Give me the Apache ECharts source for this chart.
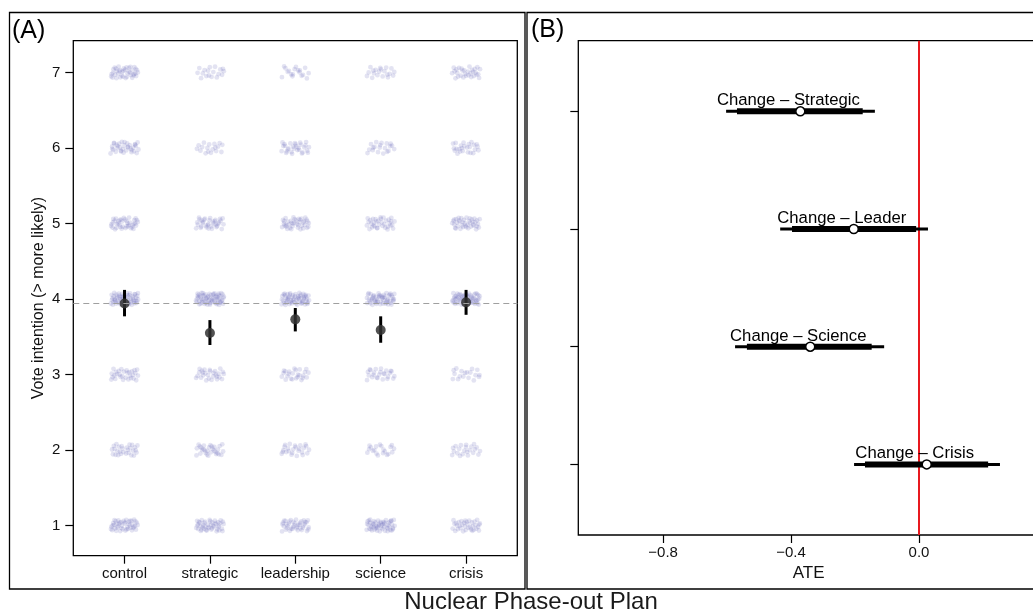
<!DOCTYPE html>
<html>
<head>
<meta charset="utf-8">
<script src="https://cdn.jsdelivr.net/npm/echarts@6/dist/echarts.min.js"></script>
<style>
  html, body { margin: 0; padding: 0; background: #fff; }
  #chart { width: 1033px; height: 613px; }
</style>
</head>
<body>
<div id="chart"></div>
<script>
// panel A: treatments, response levels, estimated respondents per level
var treatments = ['control', 'strategic', 'leadership', 'science', 'crisis'];
var levels = [1, 2, 3, 4, 5, 6, 7];
// rows = level 1..7, columns = treatments
var counts = [
    [45, 45, 40, 55, 35],
    [28, 30, 25, 20, 22],
    [30, 28, 25, 25, 18],
    [60, 65, 60, 55, 60],
    [40, 35, 40, 35, 40],
    [35, 18, 30, 20, 25],
    [40, 18, 18, 20, 30]
];
var meanVals = [3.94, 3.55, 3.73, 3.59, 3.955];
var ciLow = [3.77, 3.39, 3.57, 3.42, 3.79];
var ciHigh = [4.12, 3.72, 3.88, 3.77, 4.12];

// panel B: average treatment effects
var contrasts = ['Change \u2013 Strategic', 'Change \u2013 Leader', 'Change \u2013 Science', 'Change \u2013 Crisis'];
var ate = [-0.371, -0.204, -0.34, 0.024];
var ci90Low = [-0.569, -0.397, -0.538, -0.169];
var ci90High = [-0.176, -0.009, -0.148, 0.216];
var ci95Low = [-0.603, -0.434, -0.575, -0.203];
var ci95High = [-0.138, 0.028, -0.109, 0.253];
var ateTicks = [-0.8, -0.4, 0.0];

var FONT = 'Liberation Sans, Arial, Helvetica, sans-serif';

function halton(i, b) {
    var f = 1, r = 0;
    while (i > 0) { f /= b; r += f * (i % b); i = Math.floor(i / b); }
    return r;
}

var cloudData = [];
levels.forEach(function (lv, li) {
    treatments.forEach(function (t, ti) {
        cloudData.push([ti + 1, lv, counts[li][ti], ti * 7 + li]);
    });
});
var meanData = meanVals.map(function (m, i) { return [i + 1, m]; });
var barData = meanVals.map(function (m, i) { return [i + 1, ciLow[i], ciHigh[i]]; });
var rowOf = function (i) { return contrasts.length - i; };
var ateBars = contrasts.map(function (c, i) {
    return [rowOf(i), ci95Low[i], ci95High[i], ci90Low[i], ci90High[i]];
});
var atePoints = contrasts.map(function (c, i) { return { name: c, value: [ate[i], rowOf(i)] }; });

var tickStyle = { color: '#000', width: 1.2 };
var chart = echarts.init(document.getElementById('chart'));
var option = {
    animation: false,
    textStyle: { fontFamily: FONT },
    graphic: [
        { type: 'rect', shape: { x: 9.5, y: 12.5, width: 515.5, height: 576.5 },
          style: { fill: 'none', stroke: '#000', lineWidth: 1.3 }, silent: true },
        { type: 'rect', shape: { x: 527, y: 12.5, width: 530, height: 576.5 },
          style: { fill: 'none', stroke: '#000', lineWidth: 1.3 }, silent: true },
        { type: 'text', x: 12, y: 31, style: { text: '(A)', font: '25px ' + FONT, fill: '#000', verticalAlign: 'middle' } },
        { type: 'text', x: 531, y: 30, style: { text: '(B)', font: '25px ' + FONT, fill: '#000', verticalAlign: 'middle' } },
        { type: 'text', x: 531, y: 602, style: { text: 'Nuclear Phase-out Plan', font: '24px ' + FONT, fill: '#1a1a1a', align: 'center', verticalAlign: 'middle' } }
    ],
    grid: [
        { left: 73.3, top: 40.7, width: 444, height: 515, outerBoundsMode: 'none',
          show: true, borderColor: '#000', borderWidth: 1.3 },
        { left: 578.3, top: 40.7, width: 460.7, height: 494.3, outerBoundsMode: 'none',
          show: true, borderColor: '#000', borderWidth: 1.3 }
    ],
    xAxis: [
        { gridIndex: 0, type: 'value', min: 0.4, max: 5.6,
          axisLine: { show: false, onZero: false }, splitLine: { show: false },
          axisTick: { customValues: [1, 2, 3, 4, 5], length: 8, lineStyle: tickStyle },
          axisLabel: { customValues: [1, 2, 3, 4, 5], margin: 11, fontSize: 15, color: '#111',
                       formatter: function (v) { return treatments[Math.round(v) - 1]; } } },
        { gridIndex: 1, type: 'value', min: -1.065, max: 0.375,
          name: 'ATE', nameLocation: 'middle', nameGap: 29,
          nameTextStyle: { fontSize: 17, color: '#111' },
          axisLine: { show: false, onZero: false }, splitLine: { show: false },
          axisTick: { customValues: ateTicks, length: 8, lineStyle: tickStyle },
          axisLabel: { customValues: ateTicks, margin: 10, fontSize: 15, color: '#111',
                       formatter: function (v) { return (v < 0 ? '\u2212' : '') + Math.abs(v).toFixed(1); } } }
    ],
    yAxis: [
        { gridIndex: 0, type: 'value', min: 0.6, max: 7.42,
          name: 'Vote intention (> more likely)', nameLocation: 'middle', nameGap: 27,
          nameTextStyle: { fontSize: 16, color: '#111' },
          axisLine: { show: false, onZero: false }, splitLine: { show: false },
          axisTick: { customValues: levels, length: 8, lineStyle: tickStyle },
          axisLabel: { customValues: levels, margin: 13, fontSize: 15, color: '#111' } },
        { gridIndex: 1, type: 'value', min: 0.4, max: 4.6,
          axisLine: { show: false, onZero: false }, splitLine: { show: false },
          axisTick: { customValues: [1, 2, 3, 4], length: 8, lineStyle: tickStyle },
          axisLabel: { show: false } }
    ],
    series: [
        {
            type: 'custom', xAxisIndex: 0, yAxisIndex: 0, silent: true,
            encode: { x: 0, y: 1 },
            data: cloudData,
            renderItem: function (params, api) {
                var c = api.coord([api.value(0), api.value(1)]);
                var n = api.value(2), s = api.value(3);
                var kids = [];
                for (var k = 0; k < n; k++) {
                    var idx = s * 97 + k + 1;
                    kids.push({
                        type: 'circle',
                        shape: { cx: c[0] + (halton(idx, 2) * 2 - 1) * 14, cy: c[1] + (halton(idx, 3) * 2 - 1) * 6, r: 2.4 },
                        style: { fill: '#6666b8', opacity: 0.18 }
                    });
                }
                return { type: 'group', children: kids };
            }
        },
        {
            type: 'custom', xAxisIndex: 0, yAxisIndex: 0, silent: true, z: 3,
            encode: { x: 0, y: [1, 2] },
            data: barData,
            renderItem: function (params, api) {
                var a = api.coord([api.value(0), api.value(1)]);
                var b = api.coord([api.value(0), api.value(2)]);
                return { type: 'line', shape: { x1: a[0], y1: a[1], x2: b[0], y2: b[1] },
                         style: { stroke: '#000', lineWidth: 3 } };
            }
        },
        {
            type: 'scatter', xAxisIndex: 0, yAxisIndex: 0, z: 4, silent: true,
            symbolSize: 10,
            itemStyle: { color: '#333', opacity: 0.85 },
            data: meanData,
            markLine: {
                silent: true, symbol: 'none', label: { show: false },
                lineStyle: { color: '#a0a0a0', type: [6, 4], width: 1.1 },
                data: [{ yAxis: meanVals[0] }]
            }
        },
        {
            type: 'custom', xAxisIndex: 1, yAxisIndex: 1, silent: true, z: 3,
            encode: { x: [1, 2], y: 0 },
            data: ateBars,
            renderItem: function (params, api) {
                var y = api.value(0);
                var a = api.coord([api.value(1), y]), b = api.coord([api.value(2), y]);
                var c = api.coord([api.value(3), y]), d = api.coord([api.value(4), y]);
                return { type: 'group', children: [
                    { type: 'line', shape: { x1: a[0], y1: a[1], x2: b[0], y2: b[1] }, style: { stroke: '#000', lineWidth: 3 } },
                    { type: 'line', shape: { x1: c[0], y1: c[1], x2: d[0], y2: d[1] }, style: { stroke: '#000', lineWidth: 6 } }
                ] };
            }
        },
        {
            type: 'scatter', xAxisIndex: 1, yAxisIndex: 1, z: 4, silent: true,
            symbolSize: 9,
            itemStyle: { color: '#fff', borderColor: '#000', borderWidth: 1.5, opacity: 1 },
            label: { show: true, position: 'top', distance: 0, offset: [-12, 3],
                     formatter: '{b}', fontSize: 16.7, color: '#000' },
            data: atePoints,
            markLine: {
                silent: true, symbol: 'none', label: { show: false }, z: 1,
                lineStyle: { color: '#e8191f', type: 'solid', width: 2 },
                data: [{ xAxis: 0 }]
            }
        }
    ]
};
chart.setOption(option);
</script>
</body>
</html>
